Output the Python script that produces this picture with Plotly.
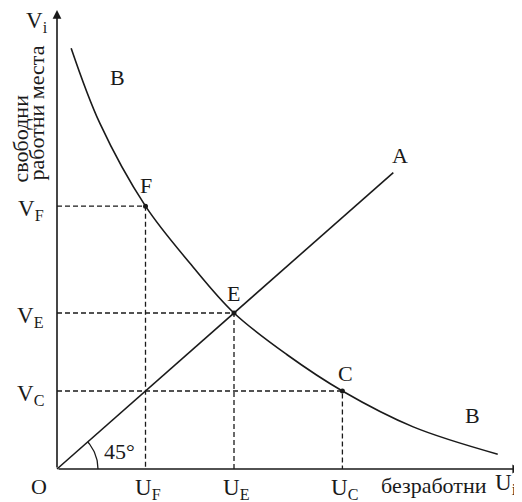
import numpy as np
import plotly.graph_objects as go

# ---- data ----
curve_u = [0.32, 0.97, 2.0, 3.01, 4.0, 5.2, 6.45, 8.05, 9.96]
curve_v = [10.79, 8.86, 6.74, 5.27, 4.0, 2.93, 2.0, 1.08, 0.38]
line_a_end = 7.6
point_names = ["F", "E", "C"]
point_u = [2.0, 4.0, 6.45]
point_v = [6.74, 4.0, 2.0]
u_tick_labels = ["U<sub>F</sub>", "U<sub>E</sub>", "U<sub>C</sub>"]
v_tick_labels = ["V<sub>F</sub>", "V<sub>E</sub>", "V<sub>C</sub>"]
y_title_lines = ["свободни", "работни места"]
x_title = "безработни"
x_axis_max = 10.49
y_axis_max = 11.77

OFF = 8                       # page body margin
W, H = 522 - OFF, 502 - OFF
X0PIX, Y0PIX = 57 - OFF, 469 - OFF   # origin position in figure pixels
XS, YS = 44.25, 39.0                 # pixels per unit
xr = [-X0PIX / XS, (W - X0PIX) / XS]
yr = [-(H - Y0PIX) / YS, Y0PIX / YS]

FONT = "Liberation Serif, Times New Roman, DejaVu Serif, serif"
BLK = "#1a1a1a"

fig = go.Figure()

# dashed guides
for u, v in zip(point_u, point_v):
    fig.add_trace(go.Scatter(x=[0, u, u], y=[v, v, 0], mode="lines",
                             line=dict(color=BLK, width=1.3, dash="5px,3px"),
                             hoverinfo="skip", showlegend=False))

# 45 degree line OA
fig.add_trace(go.Scatter(x=[0, line_a_end], y=[0, line_a_end], mode="lines",
                         line=dict(color=BLK, width=1.6), showlegend=False))

# curve B
fig.add_trace(go.Scatter(x=curve_u, y=curve_v, mode="lines",
                         line=dict(color=BLK, width=1.6, shape="spline", smoothing=1.0),
                         showlegend=False))

# points
fig.add_trace(go.Scatter(x=point_u, y=point_v, mode="markers",
                         marker=dict(color=BLK, size=5), showlegend=False))

# angle arc (radius 41 px)
ang_end = np.arctan2(YS, XS)
t = np.linspace(0, ang_end, 30)
R = 41
fig.add_trace(go.Scatter(x=R * np.cos(t) / XS, y=R * np.sin(t) / YS, mode="lines",
                         line=dict(color=BLK, width=1.3), showlegend=False))

ann = []
# axes as arrows
ann.append(dict(x=x_axis_max, y=0, ax=0, ay=0, xref="x", yref="y", axref="x", ayref="y",
                text="", showarrow=True, arrowhead=2, arrowsize=1.1, arrowwidth=1.6,
                arrowcolor=BLK, standoff=0, startstandoff=0))
ann.append(dict(x=0, y=y_axis_max, ax=0, ay=0, xref="x", yref="y", axref="x", ayref="y",
                text="", showarrow=True, arrowhead=2, arrowsize=1.1, arrowwidth=1.6,
                arrowcolor=BLK, standoff=0, startstandoff=0))

def txt(x, y, s, size=22, xa="center", ya="middle", **kw):
    d = dict(x=x, y=y, xref="x", yref="y", text=s, showarrow=False,
             xanchor=xa, yanchor=ya, font=dict(family=FONT, size=size, color=BLK))
    d.update(kw)
    ann.append(d)

# point labels
lab_off = [(0.0, 0.52), (-0.02, 0.51), (0.06, 0.46)]
for n, u, v, (dx, dy) in zip(point_names, point_u, point_v, lab_off):
    txt(u + dx, v + dy, n)
txt(line_a_end + 0.15, line_a_end + 0.45, "A")
txt(1.36, 10.05, "B")
txt(9.38, 1.36, "B")
txt(1.42, 0.46, "45°")

# tick labels
for u, s in zip(point_u, u_tick_labels):
    txt(u + 0.05, -0.1, s, size=23, ya="top")
for v, s in zip(point_v, v_tick_labels):
    txt(-0.25, v - 0.1, s, size=23, xa="right")
txt(-0.41, -0.46, "O")
txt(-0.16, 11.45, "V<sub>i</sub>", size=23, xa="right")
txt(7.28, -0.42, x_title, xa="left")
txt(9.86, -0.38, "U<sub>i</sub>", size=23, xa="left")
txt(-0.82, 8.47, y_title_lines[0], textangle=-90)
txt(-0.47, 9.12, y_title_lines[1], textangle=-90)

fig.update_layout(
    width=W, height=H, margin=dict(l=0, r=0, t=0, b=0),
    paper_bgcolor="white", plot_bgcolor="white",
    xaxis=dict(range=xr, visible=False, fixedrange=True),
    yaxis=dict(range=yr, visible=False, fixedrange=True),
    annotations=ann, showlegend=False,
)
fig.write_html("out.html")
